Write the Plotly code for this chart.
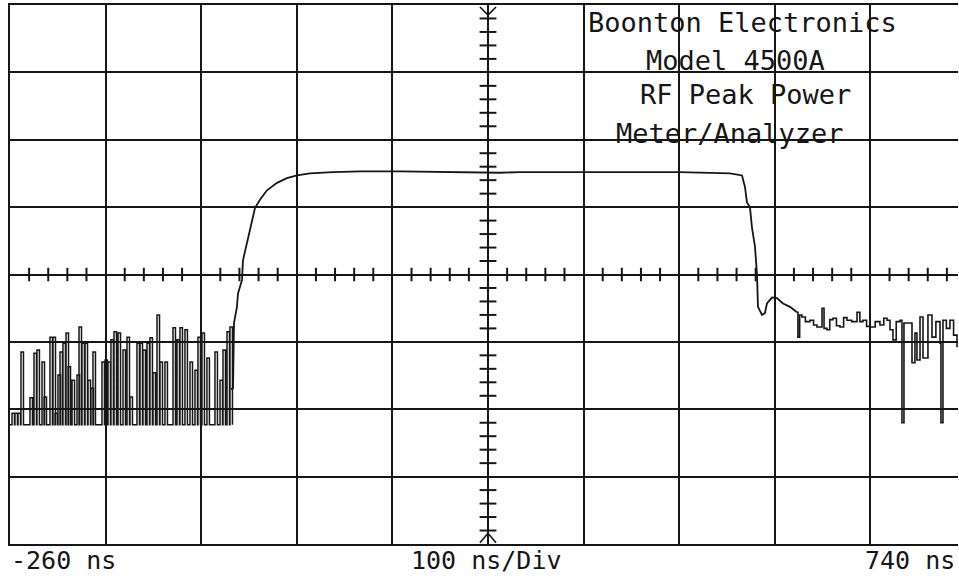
import plotly.graph_objects as go

# ---------------- data (time in ns, amplitude in divisions from bottom) ----------------
# noise before the pulse: spike start times and spike tops, returning to the noise floor
noise_t = [-257.9, -254.8, -251.6, -248.5, -239.1, -234.9, -231.8, -226.5, -224.4, -218.2,
           -215.0, -212.9, -209.8, -207.7, -204.6, -201.4, -199.3, -195.1, -189.9, -187.8,
           -184.7, -181.5, -178.4, -175.3, -173.2, -163.8, -160.6, -157.5, -154.4, -151.2,
           -147.0, -141.8, -137.6, -134.5, -127.2, -124.0, -120.9, -116.7, -113.6, -110.4,
           -106.2, -103.1, -97.9, -89.5, -85.3, -82.2, -77.0, -71.7, -66.5, -63.4,
           -59.2, -54.0, -45.6, -40.3, -37.2, -33.0, -29.9]
noise_peak = [1.94, 1.94, 1.94, 2.85, 2.17, 2.83, 2.88, 2.70, 2.18, 3.07,
              3.07, 1.94, 2.51, 2.85, 2.98, 3.13, 2.63, 2.43, 2.51, 3.22,
              2.98, 2.98, 2.43, 2.31, 2.85, 2.70, 2.73, 2.70, 3.03, 3.15,
              3.13, 2.88, 3.07, 2.18, 2.98, 2.98, 2.88, 2.98, 3.06, 2.54,
              3.40, 2.70, 2.70, 3.21, 3.03, 3.21, 3.18, 2.70, 2.58, 3.07,
              3.13, 2.76, 2.85, 2.43, 2.88, 3.15, 3.22]
noise_floor = 1.77

# pulse: rise, flat top, fall
pulse_t = [-29.0, -26.7, -25.7, -22.6, -21.5, -17.3, -16.3, -12.1, -9.0, -5.8, -3.7, 1.5, 8.8,
           19.3, 29.7, 40.2, 53.8, 77.9, 106.1, 147.9, 200.2, 240.0, 252.5, 273.5,
           357.1, 440.8, 493.1, 505.7, 508.8, 510.9, 514.0, 516.1, 519.3, 521.4,
           522.4, 526.6, 529.7, 531.8, 537.1, 542.3, 548.6, 555.9, 563.2]
pulse_v = [2.30, 2.31, 3.28, 3.52, 3.72, 3.92, 4.21, 4.47, 4.66, 4.85, 4.99, 5.11, 5.25,
           5.36, 5.43, 5.47, 5.50, 5.52, 5.53, 5.53, 5.52, 5.52, 5.51, 5.52,
           5.52, 5.52, 5.50, 5.47, 5.30, 5.07, 5.00, 4.70, 4.41, 3.99,
           3.52, 3.40, 3.43, 3.57, 3.66, 3.65, 3.57, 3.52, 3.44]

# tail after the pulse
tail_t = [563.2, 564.2, 566.0, 568.4, 572.0, 576.8, 580.5, 584.1, 589.4, 591.5, 594.6, 597.5,
          600.9, 604.5, 608.2, 612.0, 615.5, 620.5, 626.0, 629.0, 632.2, 636.0, 639.6, 645.0,
          650.0, 654.0, 657.4, 660.5, 663.6, 667.0, 671.0, 673.0, 675.1, 678.3, 683.5,
          686.6, 688.7, 691.9, 695.0, 700.2, 704.4, 708.5, 712.8, 713.8, 715.9, 719.5,
          723.2, 727.0, 730.6]
tail_v = [3.44, 3.07, 3.40, 3.37, 3.30, 3.32, 3.25, 3.22, 3.50, 3.20, 3.18, 3.33,
          3.35, 3.24, 3.22, 3.36, 3.32, 3.30, 3.44, 3.30, 3.32, 3.23, 3.22, 3.30,
          3.25, 3.35, 3.32, 3.18, 3.03, 3.30, 3.32, 1.80, 3.28, 3.28, 2.69,
          3.13, 2.73, 3.37, 2.76, 3.40, 3.07, 3.30, 2.98, 1.80, 3.32, 3.20,
          3.32, 3.10, 2.92]

title_lines = ["Boonton Electronics", "Model 4500A", "RF Peak Power", "Meter/Analyzer"]
left_label = "-260 ns"
center_label = "100 ns/Div"
right_label = "740 ns"

T0, DIV_NS, N_DIV_X, N_DIV_Y = -260, 100, 10, 8
CENTER_T, CENTER_V = T0 + 5 * DIV_NS, N_DIV_Y / 2

# ---------------- build traces ----------------
nx, ny = [], []
for t, p in zip(noise_t, noise_peak):
    nx += [t, t + 2.6]
    ny += [p, noise_floor]

INK = "#161616"
fig = go.Figure()
fig.add_trace(go.Scatter(x=[T0] + nx, y=[noise_floor] + ny, mode="lines", line_shape="hv",
                         line=dict(color=INK, width=1.5), hoverinfo="skip"))
fig.add_trace(go.Scatter(x=pulse_t, y=pulse_v, mode="lines",
                         line=dict(color=INK, width=1.8), hoverinfo="skip"))
fig.add_trace(go.Scatter(x=tail_t, y=tail_v, mode="lines", line_shape="hv",
                         line=dict(color=INK, width=1.6), hoverinfo="skip"))

# ---------------- graticule ticks on the centre lines ----------------
shapes = []
for k in range(1, N_DIV_Y * 5):
    if k % 5:
        shapes.append(dict(type="line", xref="x", yref="y", x0=CENTER_T - 8.8, x1=CENTER_T + 8.8,
                           y0=k * 0.2, y1=k * 0.2, line=dict(color=INK, width=2)))
for k in range(1, N_DIV_X * 5):
    if k % 5:
        tt = T0 + k * 20
        shapes.append(dict(type="line", xref="x", yref="y", x0=tt, x1=tt,
                           y0=CENTER_V - 0.1, y1=CENTER_V + 0.1, line=dict(color=INK, width=2)))
# trigger markers top and bottom of centre line
shapes.append(dict(type="path", xref="x", yref="y",
                   path=f"M {CENTER_T-8.4},7.97 L {CENTER_T},7.85 L {CENTER_T+8.4},7.97",
                   line=dict(color=INK, width=1.6)))
shapes.append(dict(type="path", xref="x", yref="y",
                   path=f"M {CENTER_T-8.4},0.02 L {CENTER_T},0.16 L {CENTER_T+8.4},0.02",
                   line=dict(color=INK, width=1.6)))

# ---------------- text ----------------
FONT = "DejaVu Sans Mono"
ann = []
title_pos = [(506, 7.74), (499, 7.18), (509, 6.67), (493, 6.10)]
for txt, (tx, ty) in zip(title_lines, title_pos):
    ann.append(dict(x=tx, y=ty, xref="x", yref="y", text=txt, showarrow=False,
                    xanchor="center", yanchor="middle",
                    font=dict(family=FONT, size=27, color=INK)))
LBL_Y = -0.03
ann.append(dict(x=-260, y=LBL_Y, xref="x", yref="paper", text=left_label, showarrow=False,
                xanchor="left", yanchor="middle", borderpad=0,
                font=dict(family=FONT, size=25, color=INK)))
ann.append(dict(x=238, y=LBL_Y, xref="x", yref="paper", text=center_label, showarrow=False,
                xanchor="center", yanchor="middle", font=dict(family=FONT, size=25, color=INK)))
ann.append(dict(x=730, y=LBL_Y, xref="x", yref="paper", text=right_label, showarrow=False,
                xanchor="right", yanchor="middle", borderpad=0,
                font=dict(family=FONT, size=25, color=INK)))

fig.update_layout(
    width=959, height=581,
    margin=dict(l=10, r=1, t=5, b=37),
    paper_bgcolor="white", plot_bgcolor="white",
    showlegend=False,
    shapes=shapes, annotations=ann,
    xaxis=dict(range=[T0, T0 + 948 / 0.956], tickmode="linear", tick0=T0, dtick=DIV_NS,
               showgrid=True, gridcolor=INK, gridwidth=2.2, zeroline=False,
               showticklabels=False, ticks="", showline=True, linecolor=INK, linewidth=2.2,
               mirror=True, fixedrange=True),
    yaxis=dict(range=[0, N_DIV_Y], tickmode="linear", tick0=0, dtick=1,
               showgrid=True, gridcolor=INK, gridwidth=2.2, zeroline=False,
               showticklabels=False, ticks="", showline=True, linecolor=INK, linewidth=2.2,
               mirror=False, fixedrange=True),
)

fig.write_html("out.html", config={"displayModeBar": False},
               post_script="document.body.style.margin='0';document.body.style.overflow='hidden';")
